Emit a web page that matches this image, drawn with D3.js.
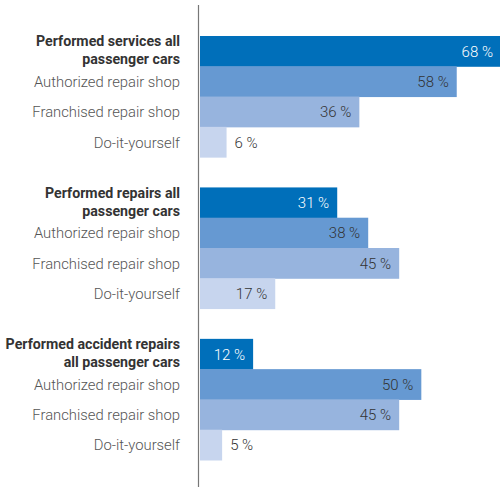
<!DOCTYPE html>
<html lang="en">
<head>
    <meta charset="UTF-8">
    <title>Performed services and repairs</title>
    <script src="https://d3js.org/d3.v7.min.js"></script>
    <style>
        body {
            margin: 0;
            background: #fff;
            font-family: Roboto, "Open Sans", sans-serif;
        }
    </style>
</head>
<body>
<main></main>
<script>
    // group headers (two lines each) and their totals
    var groupLines = [
        ['Performed services all', 'passenger cars'],
        ['Performed repairs all', 'passenger cars'],
        ['Performed accident repairs', 'all passenger cars']
    ];
    var groupTotals = [68, 31, 12];

    var categories = ['Authorized repair shop', 'Franchised repair shop', 'Do-it-yourself'];
    var authorized = [58, 38, 50];
    var franchised = [36, 45, 45];
    var diy = [6, 17, 5];

    var colors = ['#006fba', '#6699d2', '#97b4de', '#c7d5ee'];

    var w = 500, h = 487;
    var m = {top: 36, left: 200, bottom: 27, right: 0};

    // build rows: 4 per group, with an empty slot between groups
    var rows = [];
    groupLines.forEach(function(g, i){
        var base = i * 5;
        rows.push({slot: base, kind: 'group', group: i, value: groupTotals[i], color: 0});
        rows.push({slot: base + 1, kind: 'cat', label: categories[0], value: authorized[i], color: 1});
        rows.push({slot: base + 2, kind: 'cat', label: categories[1], value: franchised[i], color: 2});
        rows.push({slot: base + 3, kind: 'cat', label: categories[2], value: diy[i], color: 3});
    });

    var xScale = d3.scaleLinear()
                   .domain([0, 68])
                   .range([m.left, w + 1]);

    var yScale = d3.scaleBand()
                   .domain(d3.range(14))
                   .range([m.top, h - m.bottom])
                   .padding(0);

    var svg = d3.select('main')
                .append('svg')
                .attr('width', w)
                .attr('height', h);

    // bars
    svg.append('g').selectAll('rect')
       .data(rows)
       .enter()
       .append('rect')
       .attr('x', xScale(0))
       .attr('y', function(d){ return yScale(d.slot); })
       .attr('width', function(d){ return xScale(d.value) - xScale(0); })
       .attr('height', yScale.bandwidth() + 0.5)
       .style('fill', function(d){ return colors[d.color]; });

    // vertical axis line
    svg.append('line')
       .attr('x1', m.left - 1.5).attr('x2', m.left - 1.5)
       .attr('y1', 5).attr('y2', h)
       .style('stroke', '#777')
       .style('stroke-width', 1.2);

    function inside(d){ return (xScale(d.value) - xScale(0)) > 40; }

    // value labels
    svg.append('g').selectAll('text')
       .data(rows)
       .enter()
       .append('text')
       .attr('x', function(d){ return inside(d) ? xScale(d.value) - 8 : xScale(d.value) + 8; })
       .attr('y', function(d){ return yScale(d.slot) + yScale.bandwidth() / 2 + 5.5; })
       .attr('text-anchor', function(d){ return inside(d) ? 'end' : 'start'; })
       .attr('font-size', '15px')
       .attr('font-weight', 300)
       .style('fill', function(d){ return (inside(d) && d.color === 0) ? '#fff' : '#333'; })
       .text(function(d){ return d.value + ' %'; });

    // category labels
    svg.append('g').selectAll('text')
       .data(rows.filter(function(d){ return d.kind === 'cat'; }))
       .enter()
       .append('text')
       .attr('x', 180)
       .attr('y', function(d){ return yScale(d.slot) + yScale.bandwidth() / 2 + 5.5; })
       .attr('text-anchor', 'end')
       .attr('font-size', '14.8px')
       .attr('font-weight', 300)
       .style('fill', '#555')
       .text(function(d){ return d.label; });

    // group labels, two lines
    var gl = svg.append('g').selectAll('text')
       .data(rows.filter(function(d){ return d.kind === 'group'; }))
       .enter()
       .append('text')
       .attr('text-anchor', 'end')
       .attr('font-size', '14.2px')
       .attr('font-weight', 'bold')
       .style('fill', '#333');

    gl.selectAll('tspan')
      .data(function(d){
          var cy = yScale(d.slot) + yScale.bandwidth() / 2;
          return groupLines[d.group].map(function(t, j){ return {t: t, y: cy - 5 + j * 18}; });
      })
      .enter()
      .append('tspan')
      .attr('x', 180)
      .attr('y', function(d){ return d.y; })
      .text(function(d){ return d.t; });
</script>
</body>
</html>
